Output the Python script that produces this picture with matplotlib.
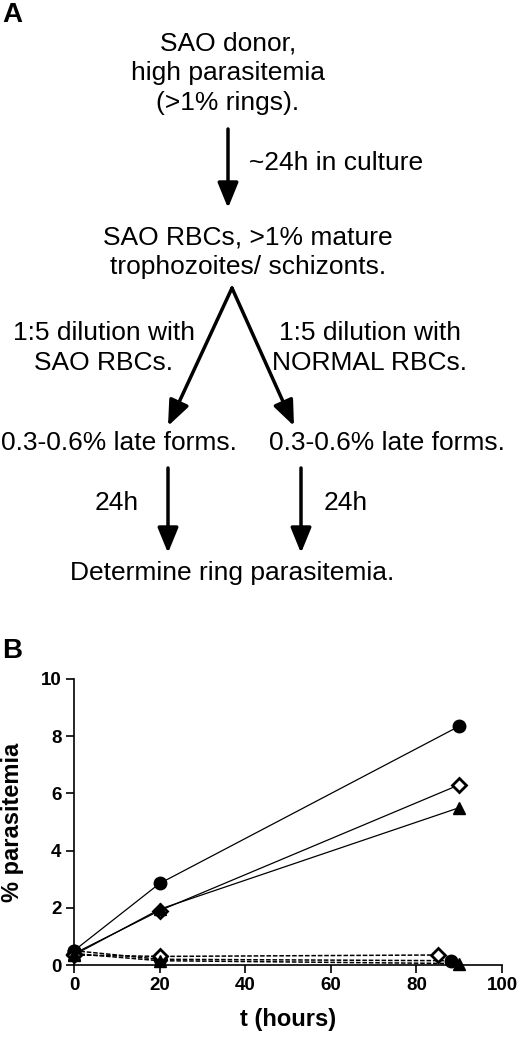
import matplotlib
matplotlib.use("Agg")
import matplotlib.pyplot as plt

plt.rcParams['font.family'] = ['Liberation Sans', 'DejaVu Sans']

# ---- data (panel B) ----
t_solid = [0, 20, 90]
solid_circle = [0.50, 2.85, 8.35]
solid_diamond = [0.40, 1.90, 6.30]
solid_triangle = [0.35, 1.95, 5.50]

t_dash_circle = [0, 20, 88]
dash_circle = [0.50, 0.20, 0.15]
t_dash_diamond = [0, 20, 85]
dash_diamond = [0.35, 0.30, 0.35]
t_dash_triangle = [0, 20, 90]
dash_triangle = [0.40, 0.15, 0.05]

xticks = [0, 20, 40, 60, 80, 100]
yticks = [0, 2, 4, 6, 8, 10]

# ---- flowchart text (panel A) ----
top_lines = ["SAO donor,", "high parasitemia", "(>1% rings)."]
mid_lines = ["SAO RBCs, >1% mature", "trophozoites/ schizonts."]
left_branch = ["1:5 dilution with", "SAO RBCs."]
right_branch = ["1:5 dilution with", "NORMAL RBCs."]
late_forms = "0.3-0.6% late forms."
step1 = "~24h in culture"
step2 = "24h"
final = "Determine ring parasitemia."

W, H = 520, 1038
fig = plt.figure(figsize=(W / 100, H / 100), dpi=100)

bg = fig.add_axes([0, 0, 1, 1])
bg.set_xlim(0, W)
bg.set_ylim(H, 0)
bg.axis('off')

fs = 19
for y, s in zip([43, 73, 103], top_lines):
    bg.text(228, y, s, ha='center', va='center', fontsize=fs)
for y, s in zip([237, 267], mid_lines):
    bg.text(248, y, s, ha='center', va='center', fontsize=fs)
for y, s in zip([333, 363], left_branch):
    bg.text(104, y, s, ha='center', va='center', fontsize=fs)
for y, s in zip([333, 363], right_branch):
    bg.text(370, y, s, ha='center', va='center', fontsize=fs)
bg.text(119, 443, late_forms, ha='center', va='center', fontsize=fs)
bg.text(387, 443, late_forms, ha='center', va='center', fontsize=fs)
bg.text(249, 163, step1, ha='left', va='center', fontsize=fs)
bg.text(117, 503, step2, ha='center', va='center', fontsize=fs)
bg.text(346, 503, step2, ha='center', va='center', fontsize=fs)
bg.text(232, 573, final, ha='center', va='center', fontsize=fs)

bg.text(2, 15, "A", ha='left', va='center', fontsize=20, fontweight='bold')
bg.text(2, 651, "B", ha='left', va='center', fontsize=20, fontweight='bold')

aprops = dict(arrowstyle='-|>,head_length=1.1,head_width=0.45', mutation_scale=14,
              lw=2.5, color='black', shrinkA=0, shrinkB=0)
for (x0, y0), (x1, y1) in [((228, 129), (228, 208)),
                           ((232, 288), (168, 426)),
                           ((232, 288), (294, 426)),
                           ((168, 468), (168, 553)),
                           ((301, 468), (301, 553))]:
    bg.annotate('', xy=(x1, y1), xytext=(x0, y0), arrowprops=aprops)

# ---- panel B ----
left, right = 74 / W, 502 / W
bottom, top = 1 - 965 / H, 1 - 679 / H
ax = fig.add_axes([left, bottom, right - left, top - bottom])
ax.set_xlim(0, 100)
ax.set_ylim(0, 10)

ms = 9
lw = 0.9
dash = (0, (3, 1.2))
common = dict(color='black', clip_on=False)
ax.plot(t_solid, solid_circle, marker='o', ms=ms, mfc='black', mec='black', ls='-', lw=lw, **common)
ax.plot(t_solid, solid_diamond, marker='D', ms=ms - 2, mfc='white', mec='black', mew=2, ls='-', lw=lw, **common)
ax.plot(t_solid, solid_triangle, marker='^', ms=ms, mfc='black', mec='black', ls='-', lw=lw, **common)
ax.plot(t_dash_circle, dash_circle, marker='o', ms=ms, mfc='black', mec='black', ls=dash, lw=1.1, **common)
ax.plot(t_dash_diamond, dash_diamond, marker='D', ms=ms - 2, mfc='white', mec='black', mew=2, ls=dash, lw=1.1, **common)
ax.plot(t_dash_triangle, dash_triangle, marker='^', ms=ms, mfc='black', mec='black', ls=dash, lw=1.1, **common)

for s in ['top', 'right']:
    ax.spines[s].set_visible(False)
for s in ['left', 'bottom']:
    ax.spines[s].set_linewidth(1.2)
ax.set_xticks(xticks)
ax.set_yticks(yticks)
ax.tick_params(direction='out', length=6, width=1.2, labelsize=13.5, pad=3)
for lab in ax.get_xticklabels() + ax.get_yticklabels():
    lab.set_fontweight('bold')
ax.set_xlabel("t (hours)", fontsize=17, fontweight='bold', labelpad=10)
ax.set_ylabel("% parasitemia", fontsize=17, fontweight='bold', labelpad=12)

fig.savefig("out.png", dpi=100)
